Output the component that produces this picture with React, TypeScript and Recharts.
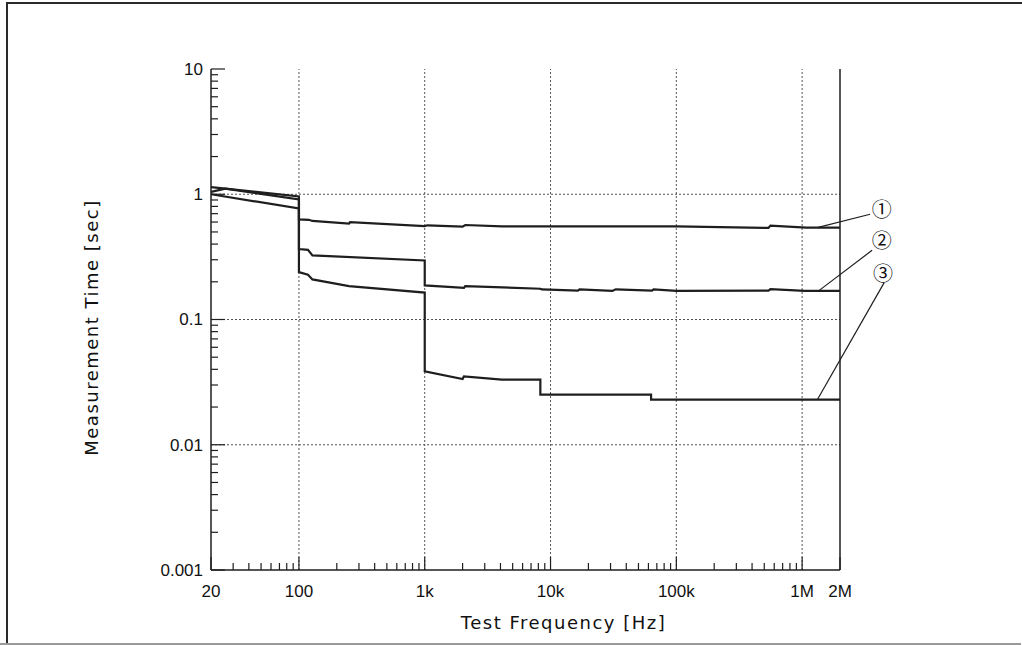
import React from 'react';
import { LineChart, Line, XAxis, YAxis, ReferenceLine, ReferenceDot } from 'recharts';

// ---- axis ticks ----
const xMajorTicks = [20, 100, 1000, 10000, 100000, 1000000, 2000000];
const xTickLabels = ['20', '100', '1k', '10k', '100k', '1M', '2M'];
const xMinorTicks = [
  30, 40, 50, 60, 70, 80, 90,
  200, 300, 400, 500, 600, 700, 800, 900,
  2000, 3000, 4000, 5000, 6000, 7000, 8000, 9000,
  20000, 30000, 40000, 50000, 60000, 70000, 80000, 90000,
  200000, 300000, 400000, 500000, 600000, 700000, 800000, 900000,
];
const xGridLines = [100, 1000, 10000, 100000, 1000000];

const yMajorTicks = [0.001, 0.01, 0.1, 1, 10];
const yTickLabels = ['0.001', '0.01', '0.1', '1', '10'];
const yMinorTicks = [
  0.002, 0.003, 0.004, 0.005, 0.006, 0.007, 0.008, 0.009,
  0.02, 0.03, 0.04, 0.05, 0.06, 0.07, 0.08, 0.09,
  0.2, 0.3, 0.4, 0.5, 0.6, 0.7, 0.8, 0.9,
  2, 3, 4, 5, 6, 7, 8, 9,
];
const yGridLines = [0.01, 0.1, 1];

// ---- series (frequency Hz, measurement time sec) ----
const curve1 = [
  { f: 20, v: 1.14 }, { f: 26, v: 1.11 }, { f: 100, v: 0.96 }, { f: 100, v: 0.63 },
  { f: 120, v: 0.625 }, { f: 128, v: 0.612 }, { f: 250, v: 0.583 }, { f: 255, v: 0.6 },
  { f: 1000, v: 0.557 }, { f: 1050, v: 0.565 }, { f: 2000, v: 0.551 }, { f: 2100, v: 0.568 },
  { f: 4100, v: 0.555 }, { f: 100000, v: 0.555 }, { f: 540000, v: 0.538 }, { f: 560000, v: 0.562 },
  { f: 1080000, v: 0.541 }, { f: 2000000, v: 0.541 },
];
const curve2 = [
  { f: 20, v: 1.045 }, { f: 26, v: 1.11 }, { f: 100, v: 0.91 }, { f: 100, v: 0.365 },
  { f: 118, v: 0.36 }, { f: 128, v: 0.325 }, { f: 1000, v: 0.296 }, { f: 1000, v: 0.187 },
  { f: 2050, v: 0.179 }, { f: 2100, v: 0.185 }, { f: 8300, v: 0.176 }, { f: 8500, v: 0.174 },
  { f: 16500, v: 0.17 }, { f: 17000, v: 0.174 }, { f: 31000, v: 0.169 }, { f: 33000, v: 0.174 },
  { f: 64000, v: 0.17 }, { f: 66000, v: 0.174 }, { f: 100000, v: 0.169 }, { f: 540000, v: 0.17 },
  { f: 560000, v: 0.175 }, { f: 1050000, v: 0.169 }, { f: 2000000, v: 0.169 },
];
const curve3 = [
  { f: 20, v: 1.0 }, { f: 100, v: 0.77 }, { f: 100, v: 0.239 }, { f: 118, v: 0.228 },
  { f: 128, v: 0.209 }, { f: 250, v: 0.185 }, { f: 1000, v: 0.164 }, { f: 1000, v: 0.0385 },
  { f: 2000, v: 0.0335 }, { f: 2050, v: 0.0352 }, { f: 4100, v: 0.0331 }, { f: 8300, v: 0.0331 },
  { f: 8300, v: 0.0251 }, { f: 63000, v: 0.0251 }, { f: 63000, v: 0.0229 }, { f: 2000000, v: 0.0229 },
];

// ---- callouts ----
const calloutNames = ['①', '②', '③'];
const calloutLeaders = [
  [{ x: 1340000, y: 0.544 }, { x: 3470000, y: 0.692 }],
  [{ x: 1360000, y: 0.17 }, { x: 3600000, y: 0.357 }],
  [{ x: 1320000, y: 0.0229 }, { x: 4490000, y: 0.197 }],
];
const calloutPositions = [
  { x: 4300000, y: 0.745 },
  { x: 4300000, y: 0.421 },
  { x: 4400000, y: 0.233 },
];

const INK = '#1e1e1e';
const TICK_FONT = '"Liberation Sans", Arial, sans-serif';
const TITLE_FONT = '"DejaVu Sans", sans-serif';

const XTick = (props: any) => {
  const { x, y, payload } = props;
  const idx = xMajorTicks.indexOf(payload.value);
  const major = idx >= 0;
  return (
    <g>
      <line x1={x} x2={x} y1={y} y2={y - (major ? 13 : 7)} stroke={INK} strokeWidth={1.2} />
      {major && (
        <text x={x} y={y + 21} dy="0.35em" textAnchor="middle" fontFamily={TICK_FONT} fontSize={17} fill="#111">
          {xTickLabels[idx]}
        </text>
      )}
    </g>
  );
};

const YTick = (props: any) => {
  const { x, y, payload } = props;
  const idx = yMajorTicks.indexOf(payload.value);
  const major = idx >= 0;
  return (
    <g>
      <line x1={x} x2={x + (major ? 14 : 7)} y1={y} y2={y} stroke={INK} strokeWidth={1.2} />
      {major && (
        <text x={x - 8} y={y} dy="0.35em" textAnchor="end" fontFamily={TICK_FONT} fontSize={17} fill="#111">
          {yTickLabels[idx]}
        </text>
      )}
    </g>
  );
};

const XTitle = (props: any) => {
  const vb = props.viewBox;
  return (
    <text x={vb.x + vb.width / 2 + 38} y={vb.y + 53} dy="0.35em" textAnchor="middle" fontFamily={TITLE_FONT} fontSize={18} letterSpacing={1.5} fill="#111">
      Test Frequency [Hz]
    </text>
  );
};

const YTitle = (props: any) => {
  const vb = props.viewBox;
  const cx = 92;
  const cy = vb.y + vb.height / 2 + 8;
  return (
    <text x={cx} y={cy} dy="0.35em" textAnchor="middle" transform={`rotate(-90 ${cx} ${cy})`} fontFamily={TITLE_FONT} fontSize={18} letterSpacing={1.5} fill="#111">
      Measurement Time [sec]
    </text>
  );
};

export default function App() {
  return (
    <div style={{ position: 'fixed', left: 0, top: 0, width: 1022, height: 645, background: '#fff', overflow: 'hidden' }}>
      <div style={{ position: 'absolute', left: 6, top: 2, width: 1016, height: 700, borderLeft: '2px solid #2a2a2a', borderTop: '2px solid #2a2a2a' }} />
      <div style={{ position: 'absolute', left: 0, top: 643, width: 1021, height: 2, background: '#9a9a9a' }} />
      <div style={{ position: 'absolute', left: 0, top: 0 }}>
        <LineChart width={1022} height={645} margin={{ top: 69, right: 182, bottom: 45, left: 0 }}>
          <XAxis
            dataKey="f"
            type="number"
            scale="log"
            domain={[20, 2000000]}
            allowDataOverflow
            ticks={[...xMajorTicks, ...xMinorTicks]}
            interval={0}
            height={30}
            tickSize={0}
            tickMargin={0}
            tickLine={false}
            tick={<XTick />}
            axisLine={{ stroke: INK, strokeWidth: 1.5 }}
            label={<XTitle />}
          />
          <YAxis
            dataKey="v"
            type="number"
            scale="log"
            domain={[0.001, 10]}
            allowDataOverflow
            ticks={[...yMajorTicks, ...yMinorTicks]}
            interval={0}
            width={211}
            tickSize={0}
            tickMargin={0}
            tickLine={false}
            tick={<YTick />}
            axisLine={{ stroke: INK, strokeWidth: 1.5 }}
            label={<YTitle />}
          />
          {xGridLines.map((g) => (
            <ReferenceLine key={'gx' + g} x={g} stroke="#555" strokeWidth={1} strokeDasharray="2 2" />
          ))}
          {yGridLines.map((g) => (
            <ReferenceLine key={'gy' + g} y={g} stroke="#555" strokeWidth={1} strokeDasharray="2 2" />
          ))}
          <ReferenceLine x={2000000} stroke={INK} strokeWidth={1.5} />
          <Line data={curve1} dataKey="v" type="linear" stroke={INK} strokeWidth={2.2} dot={false} isAnimationActive={false} />
          <Line data={curve2} dataKey="v" type="linear" stroke={INK} strokeWidth={2.2} dot={false} isAnimationActive={false} />
          <Line data={curve3} dataKey="v" type="linear" stroke={INK} strokeWidth={2.2} dot={false} isAnimationActive={false} />
          {calloutLeaders.map((seg, i) => (
            <ReferenceLine key={'ld' + i} segment={seg} ifOverflow="visible" stroke={INK} strokeWidth={1.2} />
          ))}
          {calloutPositions.map((p, i) => (
            <ReferenceDot
              key={'cl' + i}
              x={p.x}
              y={p.y}
              r={0}
              ifOverflow="visible"
              stroke="none"
              fill="none"
              label={{ value: calloutNames[i], position: 'center', fontSize: 20, fill: '#111', fontFamily: '"Noto Sans CJK JP", sans-serif' }}
            />
          ))}
        </LineChart>
      </div>
    </div>
  );
}
